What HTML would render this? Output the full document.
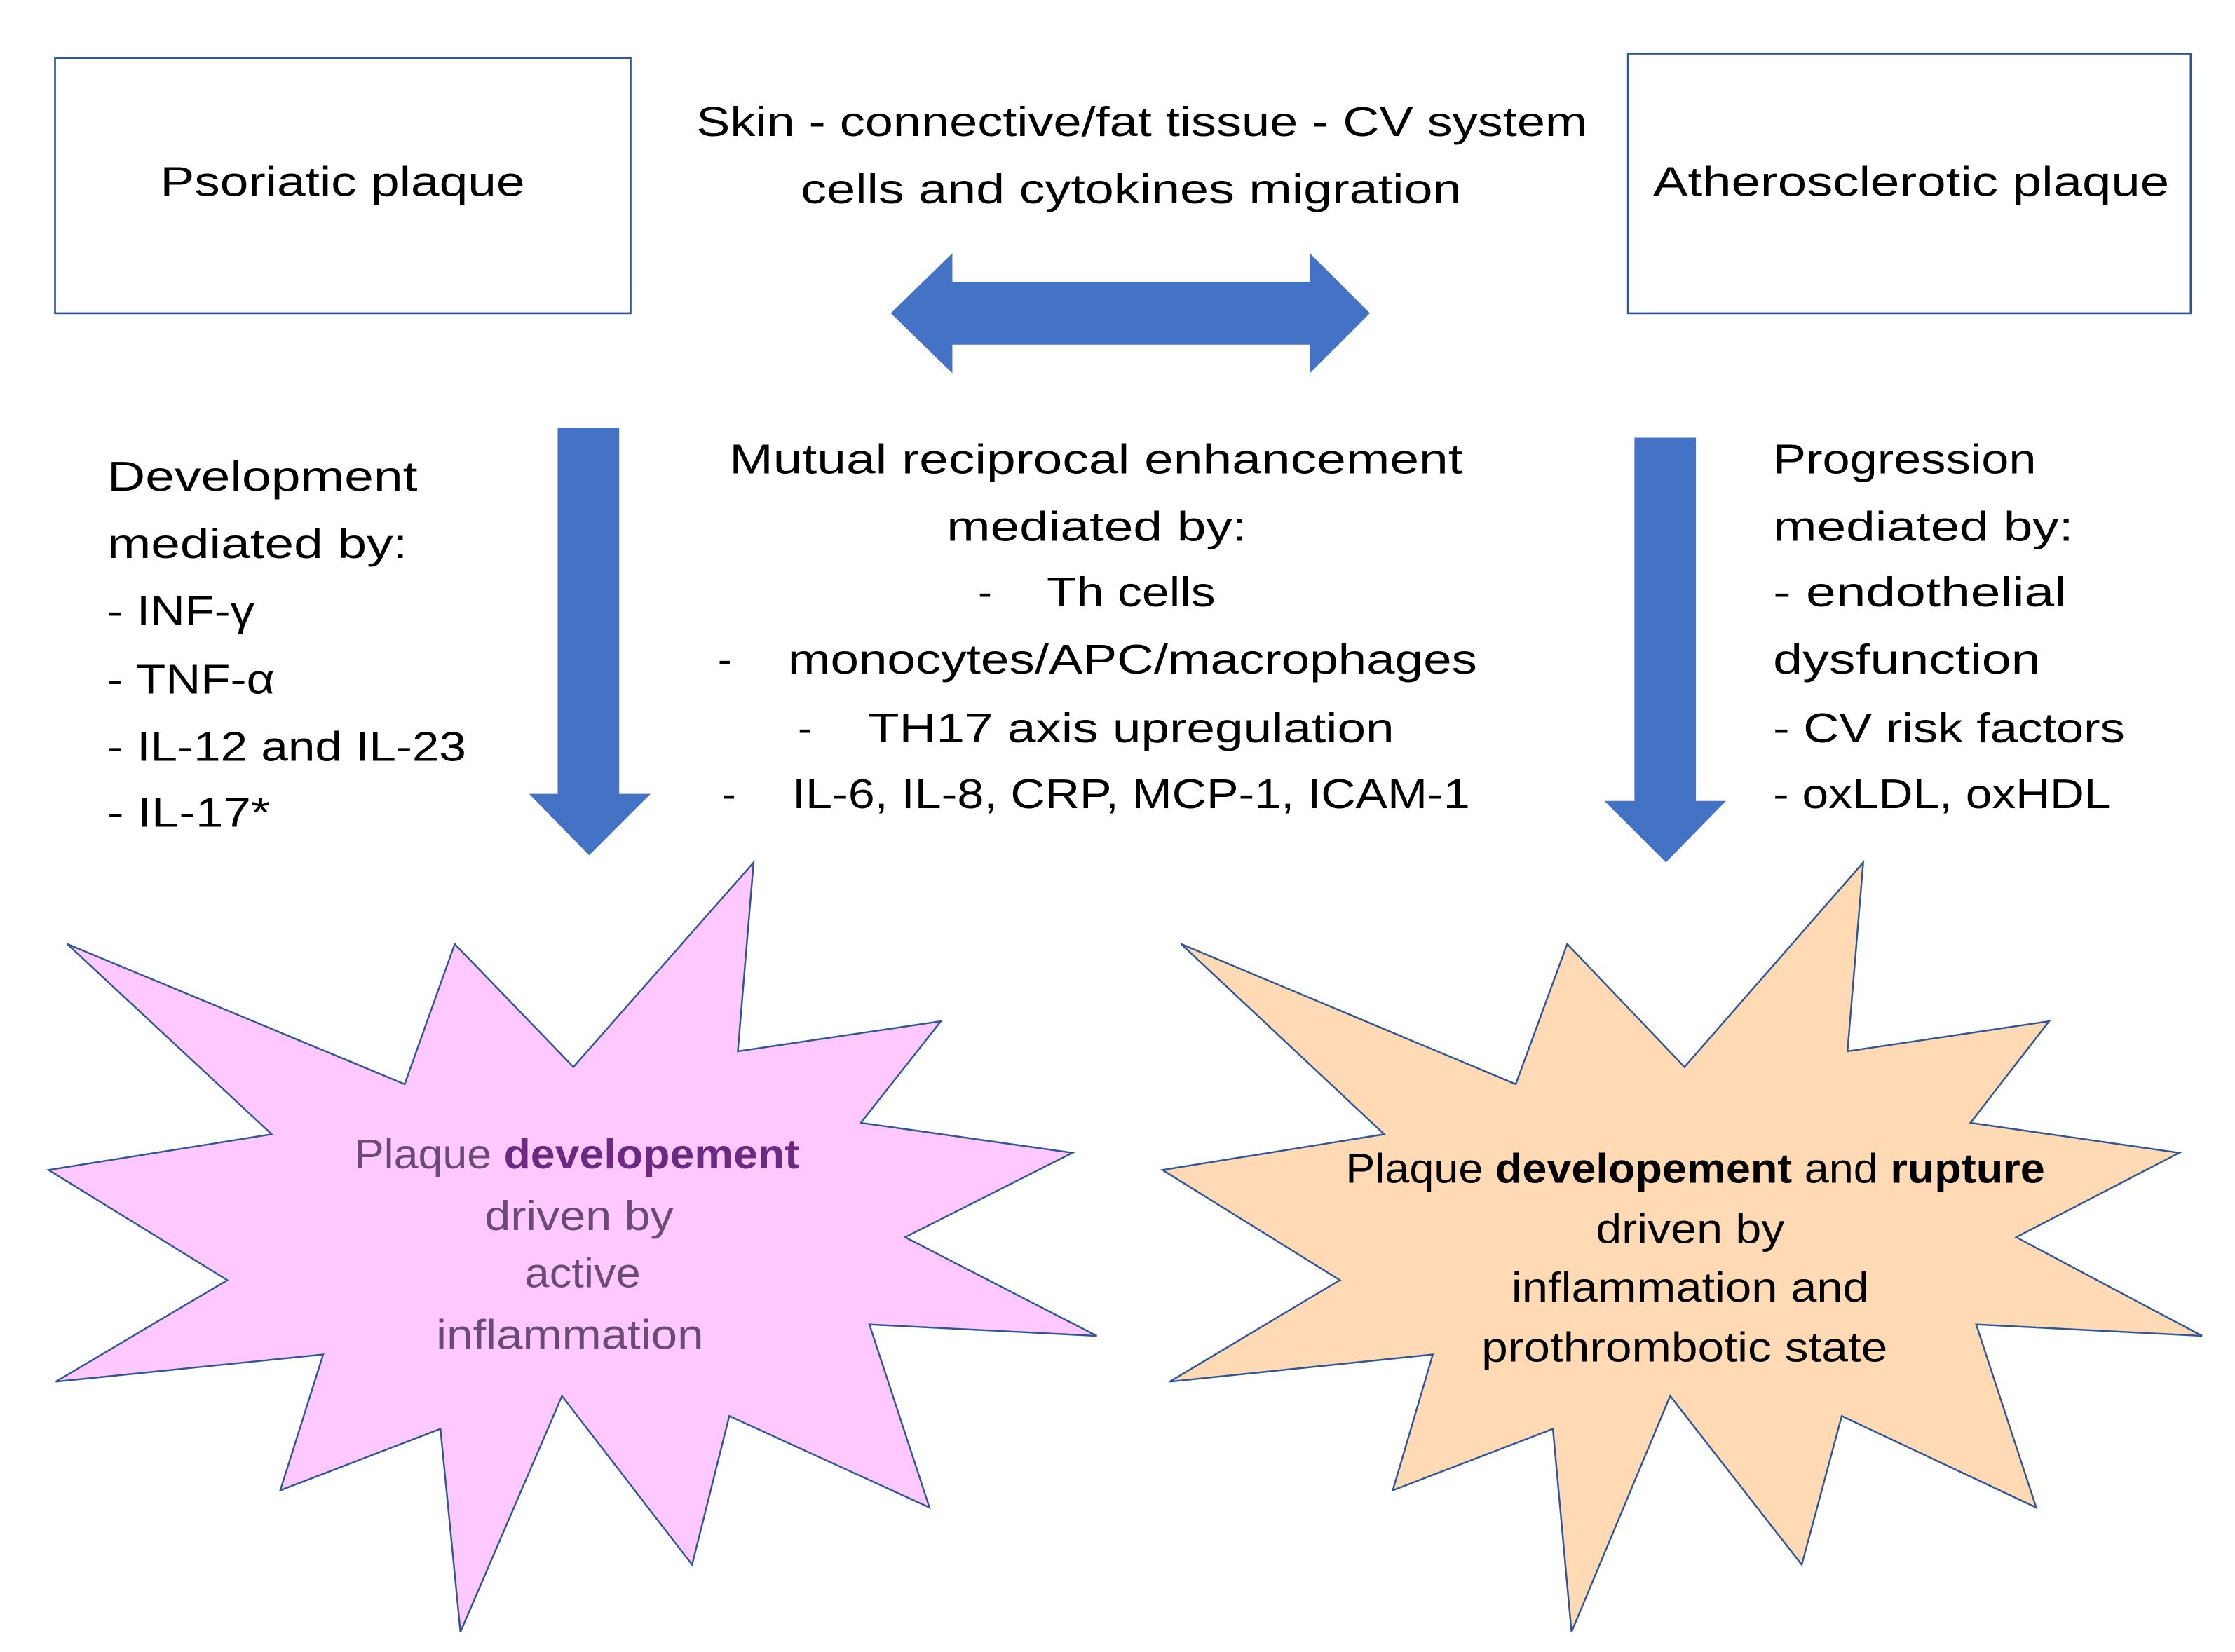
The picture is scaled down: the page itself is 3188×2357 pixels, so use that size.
<!DOCTYPE html>
<html><head><meta charset="utf-8"><style>
html,body{margin:0;padding:0;background:#fff;}
svg{display:block;}
text{font-family:"Liberation Sans",sans-serif;font-size:29px;fill:#000;}
</style></head><body>
<svg width="3188" height="2357" viewBox="0 0 1563 1155" preserveAspectRatio="none" xmlns="http://www.w3.org/2000/svg">
<rect x="38.5" y="40.5" width="402.5" height="178.5" fill="#fff" stroke="#2f5597" stroke-width="1.3"/>
<rect x="1138.5" y="37.5" width="393.5" height="181.5" fill="#fff" stroke="#2f5597" stroke-width="1.3"/>
<text x="112" y="137" textLength="255" lengthAdjust="spacingAndGlyphs">Psoriatic plaque</text>
<text x="1156" y="137" textLength="361" lengthAdjust="spacingAndGlyphs">Atherosclerotic plaque</text>
<text x="487" y="95" textLength="623" lengthAdjust="spacingAndGlyphs">Skin - connective/fat tissue - CV system</text>
<text x="560" y="142" textLength="462" lengthAdjust="spacingAndGlyphs">cells and cytokines migration</text>
<polygon points="623,219 666,177 666,197 916,197 916,177 958,219 916,261 916,241 666,241 666,261" fill="#4472c4"/>
<polygon points="390,299 433,299 433,555 455,555 412,598 370,555 390,555" fill="#4472c4"/>
<polygon points="1143,306 1186,306 1186,560 1207,560 1165,603 1122,560 1143,560" fill="#4472c4"/>
<text x="75" y="343" textLength="217" lengthAdjust="spacingAndGlyphs">Development</text>
<text x="75" y="390" textLength="210" lengthAdjust="spacingAndGlyphs">mediated by:</text>
<text x="75" y="437" textLength="103" lengthAdjust="spacingAndGlyphs">- INF-γ</text>
<text x="75" y="485" textLength="117" lengthAdjust="spacingAndGlyphs">- TNF-α</text>
<text x="75" y="532" textLength="251" lengthAdjust="spacingAndGlyphs">- IL-12 and IL-23</text>
<text x="75" y="578" textLength="114" lengthAdjust="spacingAndGlyphs">- IL-17*</text>
<text x="510" y="331" textLength="513" lengthAdjust="spacingAndGlyphs">Mutual reciprocal enhancement</text>
<text x="662" y="378" textLength="210" lengthAdjust="spacingAndGlyphs">mediated by:</text>
<text x="684" y="424">-</text><text x="732" y="424" textLength="118" lengthAdjust="spacingAndGlyphs">Th cells</text>
<text x="502" y="471">-</text><text x="551" y="471" textLength="482" lengthAdjust="spacingAndGlyphs">monocytes/APC/macrophages</text>
<text x="558" y="519">-</text><text x="607" y="519" textLength="368" lengthAdjust="spacingAndGlyphs">TH17 axis upregulation</text>
<text x="505" y="565">-</text><text x="554" y="565" textLength="474" lengthAdjust="spacingAndGlyphs">IL-6, IL-8, CRP, MCP-1, ICAM-1</text>
<text x="1240" y="331" textLength="184" lengthAdjust="spacingAndGlyphs">Progression</text>
<text x="1240" y="378" textLength="210" lengthAdjust="spacingAndGlyphs">mediated by:</text>
<text x="1240" y="424" textLength="205" lengthAdjust="spacingAndGlyphs">- endothelial</text>
<text x="1240" y="471" textLength="187" lengthAdjust="spacingAndGlyphs">dysfunction</text>
<text x="1240" y="519" textLength="246" lengthAdjust="spacingAndGlyphs">- CV risk factors</text>
<text x="1240" y="565" textLength="236" lengthAdjust="spacingAndGlyphs">- oxLDL, oxHDL</text>
<polygon points="47,660 283,758 318,660 401,746 527,603 516,735 658,714 602,785 750,806 633,865 767,934 608,926 650,1054 510,990 484,1094 393,976 322,1141 308,999 196,1042 226,947 39,966 159,895 34,818 190,793" fill="#ffc9ff" stroke="#2f5597" stroke-width="1.2" stroke-linejoin="miter"/>
<polygon points="826,660 1060,758 1096,660 1178,746 1303,603 1292,735 1433,714 1378,785 1524,806 1410,865 1540,934 1382,926 1424,1054 1288,990 1260,1094 1168,976 1099,1141 1086,999 974,1042 1002,947 818,966 937,895 813,818 968,793" fill="#ffdab4" stroke="#2f5597" stroke-width="1.2"/>
<g style="font-size:26px">
<text x="248" y="817" style="fill:#6a4a78" textLength="311" lengthAdjust="spacingAndGlyphs">Plaque <tspan style="font-weight:bold;fill:#6a2a82">developement</tspan></text>
<text x="339" y="860" style="fill:#6a4a78" textLength="132" lengthAdjust="spacingAndGlyphs">driven by</text>
<text x="367" y="900" style="fill:#6a4a78" textLength="81" lengthAdjust="spacingAndGlyphs">active</text>
<text x="305" y="943" style="fill:#6a4a78" textLength="187" lengthAdjust="spacingAndGlyphs">inflammation</text>
<text x="941" y="827" textLength="489" lengthAdjust="spacingAndGlyphs">Plaque <tspan font-weight="bold">developement</tspan> and <tspan font-weight="bold">rupture</tspan></text>
<text x="1116" y="869" textLength="132" lengthAdjust="spacingAndGlyphs">driven by</text>
<text x="1057" y="910" textLength="250" lengthAdjust="spacingAndGlyphs">inflammation and</text>
<text x="1036" y="952" textLength="284" lengthAdjust="spacingAndGlyphs">prothrombotic state</text>
</g>
</svg>
</body></html>
